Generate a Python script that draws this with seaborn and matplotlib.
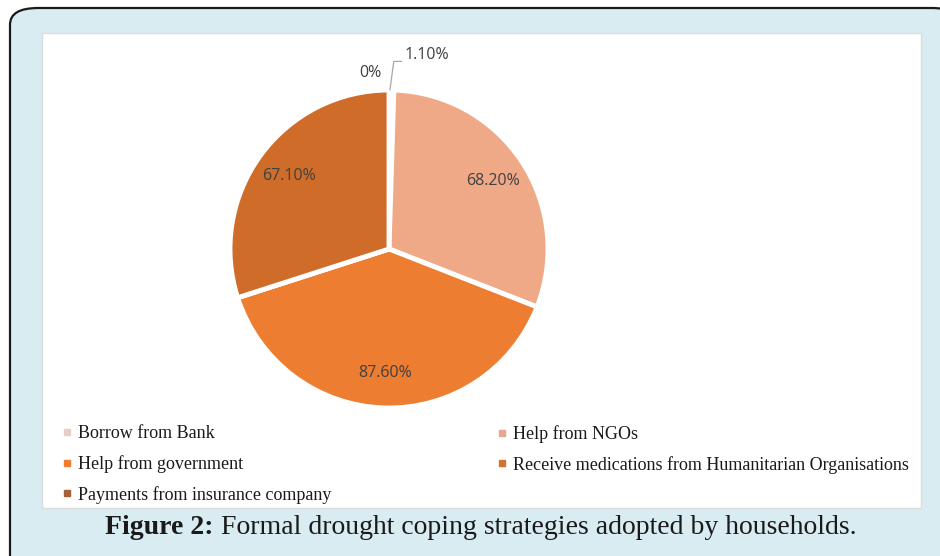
import matplotlib
matplotlib.use("Agg")
import matplotlib.pyplot as plt
import seaborn as sns
import numpy as np
from matplotlib.patches import FancyBboxPatch, Rectangle
from matplotlib.lines import Line2D

sns.set_theme(style="white")

categories = ["Borrow from Bank", "Help from NGOs", "Help from government",
              "Receive medications from Humanitarian Organisations",
              "Payments from insurance company"]
values = [1.10, 68.20, 87.60, 0.0, 67.10]
labels = ["1.10%", "68.20%", "87.60%", "0%", "67.10%"]
pie_colors = ["#f3d9cf", "#f0a987", "#ed7d31", "#d4722f", "#d06c2a"]
legend_colors = ["#e6cdc6", "#e8a890", "#ed7d31", "#d4722f", "#a5603a"]
caption_bold = "Figure 2:"
caption_rest = " Formal drought coping strategies adopted by households."

W, H = 940, 556
fig = plt.figure(figsize=(W / 100, H / 100), dpi=100, facecolor="white")

def fx(px):
    return px / W

def fy(py):
    return 1 - py / H

# outer rounded frame
frame = FancyBboxPatch((fx(10), fy(600)), fx(960) - fx(10), fy(8) - fy(600),
                       boxstyle="round,pad=0,rounding_size=0.03",
                       transform=fig.transFigure, facecolor="#d9ecf2",
                       edgecolor="#1a1a1a", linewidth=1.6, zorder=-3)
fig.patches.append(frame)
panel = Rectangle((fx(42), fy(508)), fx(921) - fx(42), fy(33) - fy(508),
                  transform=fig.transFigure, facecolor="white",
                  edgecolor="#dcdcdc", linewidth=1.0, zorder=-2)
fig.patches.append(panel)

# pie
cx, cy, r = 389, 249, 159
ax = fig.add_axes([fx(cx - r), fy(cy + r), 2 * r / W, 2 * r / H])
ax.set_facecolor("none")
ax.patch.set_alpha(0)
wedges, _ = ax.pie(values, colors=pie_colors, startangle=90, counterclock=False,
                   wedgeprops=dict(edgecolor="white", linewidth=3.5),
                   radius=1.0)
ax.set_xlim(-1.0, 1.0)
ax.set_ylim(-1.0, 1.0)
ax.set_aspect("equal")
ax.axis("off")

lab_font = dict(fontsize=11.5, color="#404040", family="Open Sans")
for i, w in enumerate(wedges):
    if values[i] < 5:
        continue
    mid = np.deg2rad((w.theta1 + w.theta2) / 2)
    ax.text(0.78 * np.cos(mid), 0.78 * np.sin(mid), labels[i],
            ha="center", va="center", **lab_font)

# small slice labels with leader line
ax.plot([0.006, 0.03, 0.08], [1.0, 1.18, 1.18], color="#a6a6a6", lw=0.9,
        clip_on=False)
ax.text(0.10, 1.22, labels[0], ha="left", va="center", **lab_font)
ax.text(-0.12, 1.11, labels[3], ha="center", va="center", **lab_font)

# legend
def handle(c):
    return Line2D([], [], marker="s", linestyle="none", markersize=5,
                  markerfacecolor=c, markeredgecolor=c)

leg_kw = dict(frameon=False, prop={"family": "Liberation Serif", "size": 13},
              handlelength=0.6, handletextpad=0.3, labelspacing=0.72,
              borderpad=0, borderaxespad=0, loc="upper left")
col1 = [0, 2, 4]
col2 = [1, 3]
l1 = fig.legend([handle(legend_colors[i]) for i in col1],
                [categories[i] for i in col1],
                bbox_to_anchor=(fx(62), fy(425)), **leg_kw)
l2 = fig.legend([handle(legend_colors[i]) for i in col2],
                [categories[i] for i in col2],
                bbox_to_anchor=(fx(497), fy(425)), **leg_kw)
for lg in (l1, l2):
    for t in lg.get_texts():
        t.set_color("#1a1a1a")

# caption
cap_kw = dict(family="Liberation Serif", size=20, color="#1a1a1a", va="center")
renderer = fig.canvas.get_renderer()
tb = fig.text(0, 0, caption_bold, weight="bold", **cap_kw)
tr = fig.text(0, 0, caption_rest, **cap_kw)
wb = tb.get_window_extent(renderer).width
wr = tr.get_window_extent(renderer).width
x0 = 481 - (wb + wr) / 2
tb.set_position((fx(x0), fy(528)))
tr.set_position((fx(x0 + wb), fy(528)))

fig.savefig("out.png", dpi=100, facecolor="white")
